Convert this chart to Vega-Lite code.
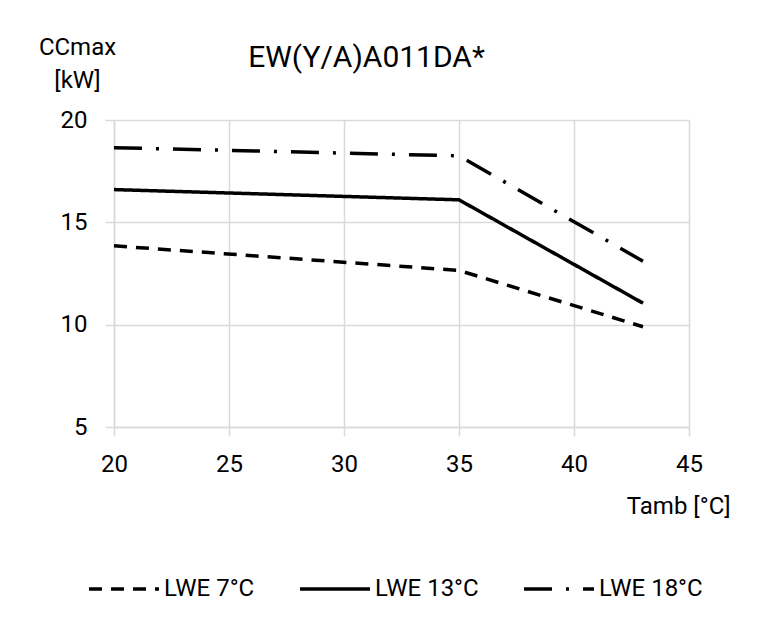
{
  "$schema": "https://vega.github.io/schema/vega-lite/v6.json",
  "autosize": "none",
  "width": 575,
  "height": 307,
  "padding": {"left": 114, "top": 120, "right": 79, "bottom": 195},
  "background": "white",
  "config": {
    "font": "Roboto",
    "view": {"stroke": null}
  },
  "title": {
    "text": "EW(Y/A)A011DA*",
    "fontSize": 30,
    "fontWeight": "normal",
    "font": "Roboto",
    "color": "black",
    "anchor": "middle",
    "frame": "group",
    "baseline": "middle",
    "offset": 10,
    "dx": -35,
    "dy": 63
  },
  "data": {
    "values": [
      {"series": "LWE 7°C", "Tamb": 20, "CCmax": 13.85},
      {"series": "LWE 7°C", "Tamb": 35, "CCmax": 12.65},
      {"series": "LWE 7°C", "Tamb": 43, "CCmax": 9.9},
      {"series": "LWE 13°C", "Tamb": 20, "CCmax": 16.6},
      {"series": "LWE 13°C", "Tamb": 35, "CCmax": 16.1},
      {"series": "LWE 13°C", "Tamb": 43, "CCmax": 11.05},
      {"series": "LWE 18°C", "Tamb": 20, "CCmax": 18.65},
      {"series": "LWE 18°C", "Tamb": 35, "CCmax": 18.25},
      {"series": "LWE 18°C", "Tamb": 43, "CCmax": 13.1}
    ]
  },
  "mark": {"type": "line", "strokeWidth": 3.5, "color": "black"},
  "encoding": {
    "x": {
      "field": "Tamb",
      "type": "quantitative",
      "scale": {"domain": [20, 45], "nice": false, "zero": false},
      "axis": {
        "values": [20, 25, 30, 35, 40, 45],
        "grid": true,
        "gridColor": "#d9d9d9",
        "gridWidth": 1.5,
        "domainColor": "#d9d9d9",
        "domainWidth": 1.5,
        "tickColor": "#d9d9d9",
        "tickWidth": 1.5,
        "tickSize": 9,
        "labelFlush": false,
        "labelOverlap": false,
        "labelFontSize": 24,
        "labelColor": "black",
        "labelBaseline": "middle",
        "labelPadding": 28,
        "labelFont": "Roboto",
        "title": "Tamb [°C]",
        "titleFont": "Roboto",
        "titleFontSize": 24,
        "titleFontWeight": "normal",
        "titleColor": "black",
        "titleAlign": "right",
        "titleBaseline": "middle",
        "titleX": 616,
        "titleY": 79
      }
    },
    "y": {
      "field": "CCmax",
      "type": "quantitative",
      "scale": {"domain": [5, 20], "nice": false, "zero": false},
      "axis": {
        "values": [5, 10, 15, 20],
        "grid": true,
        "gridColor": "#d9d9d9",
        "gridWidth": 1.5,
        "domainColor": "#d9d9d9",
        "domainWidth": 1.5,
        "tickColor": "#d9d9d9",
        "tickWidth": 1.5,
        "tickSize": 9,
        "labelFlush": false,
        "labelOverlap": false,
        "labelFontSize": 24,
        "labelColor": "black",
        "labelPadding": 18,
        "labelFont": "Roboto",
        "title": ["CCmax", "[kW]"],
        "titleFont": "Roboto",
        "titleFontSize": 24,
        "titleFontWeight": "normal",
        "titleColor": "black",
        "titleAngle": 0,
        "titleAlign": "center",
        "titleBaseline": "middle",
        "titleLineHeight": 33,
        "titleX": -37,
        "titleY": -73
      }
    },
    "strokeDash": {
      "field": "series",
      "type": "nominal",
      "scale": {
        "domain": ["LWE 7°C", "LWE 13°C", "LWE 18°C"],
        "range": [[13, 9], [1, 0], [28, 14, 3, 14]]
      },
      "legend": {
        "title": null,
        "orient": "none",
        "direction": "horizontal",
        "legendX": -27,
        "legendY": 432,
        "symbolType": "stroke",
        "symbolSize": 4900,
        "symbolStrokeWidth": 3.5,
        "symbolStrokeColor": "black",
        "labelFontSize": 24,
        "labelFont": "Roboto",
        "labelColor": "black",
        "labelOffset": 3,
        "columnPadding": 38
      }
    }
  }
}
